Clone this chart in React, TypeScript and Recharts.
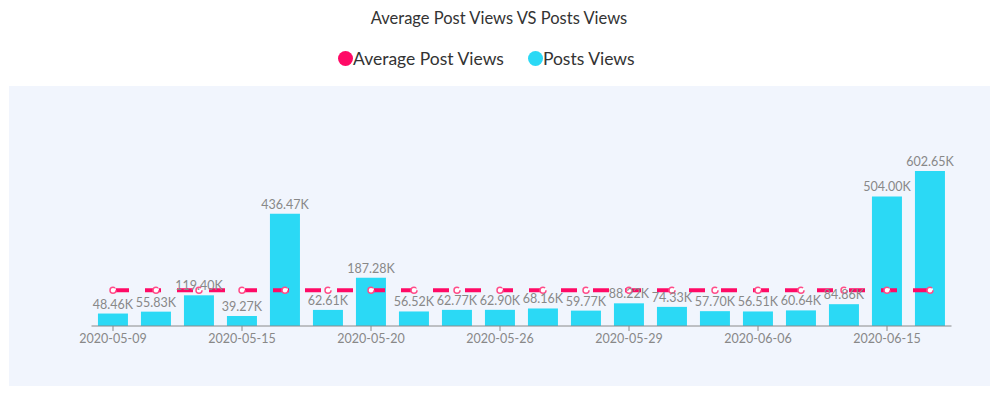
import React from "react";
import {
  ComposedChart,
  Bar,
  Line,
  XAxis,
  YAxis,
  LabelList,
} from "recharts";

const dates = [
  "2020-05-09", "2020-05-10", "2020-05-12", "2020-05-15", "2020-05-16",
  "2020-05-18", "2020-05-20", "2020-05-22", "2020-05-24", "2020-05-26",
  "2020-05-27", "2020-05-28", "2020-05-29", "2020-06-01", "2020-06-03",
  "2020-06-06", "2020-06-08", "2020-06-10", "2020-06-15", "2020-06-17",
];

// thousands
const postViews = [
  48.46, 55.83, 119.4, 39.27, 436.47, 62.61, 187.28, 56.52, 62.77, 62.9,
  68.16, 59.77, 88.22, 74.33, 57.7, 56.51, 60.64, 84.86, 504.0, 602.65,
];

const avgViews = [
  139.42, 139.42, 139.42, 139.42, 139.42, 139.42, 139.42, 139.42, 139.42, 139.42,
  139.42, 139.42, 139.42, 139.42, 139.42, 139.42, 139.42, 139.42, 139.42, 139.42,
];

const PINK = "#ff0a66";
const CYAN = "#2bd9f5";
const FONT = "Lato, sans-serif";

const data = dates.map((d, i) => ({ date: d, views: postViews[i], avg: avgViews[i] }));

function LegendItem({ color, label, gap }: { color: string; label: string; gap: number }) {
  return (
    <span style={{ display: "inline-flex", alignItems: "center", marginRight: gap }}>
      <span
        style={{
          width: 15,
          height: 15,
          borderRadius: "50%",
          background: color,
          display: "inline-block",
        }}
      />
      <span>{label}</span>
    </span>
  );
}

export default function App() {
  return (
    <div style={{ position: "relative", width: 998, height: 395, margin: -8, fontFamily: FONT, background: "#fff" }}>
      <div style={{ position: "absolute", top: 8, left: 0, width: 998, textAlign: "center", fontSize: 16.5, color: "#333" }}>
        Average Post Views VS Posts Views
      </div>
      <div style={{ position: "absolute", top: 48, left: 338, whiteSpace: "nowrap", fontSize: 17.5, color: "#333" }}>
        <LegendItem color={PINK} label="Average Post Views" gap={24} />
        <LegendItem color={CYAN} label="Posts Views" gap={0} />
      </div>
      <div style={{ position: "absolute", left: 9, top: 86, width: 982, height: 300, background: "#f1f5fd" }} />
      <div style={{ position: "absolute", left: 0, top: 0 }}>
        <ComposedChart
          width={998}
          height={395}
          data={data}
          margin={{ top: 146, right: 46.5, left: 91.5, bottom: 39 }}
          barCategoryGap="15%"
        >
          <XAxis
            dataKey="date"
            interval={2}
            height={30}
            tickSize={5}
            tickMargin={3}
            stroke="#8a8a8a"
            tick={{ fill: "#888", fontSize: 12.5, fontFamily: FONT }}
          />
          <YAxis hide domain={[0, 700]} />
          <Bar dataKey="views" fill={CYAN} isAnimationActive={false}>
            <LabelList
              dataKey="views"
              position="top"
              formatter={(v: number) => v.toFixed(2) + "K"}
              style={{ fill: "#888", fontSize: 12.5, fontFamily: FONT }}
            />
          </Bar>
          <Line
            dataKey="avg"
            stroke={PINK}
            strokeWidth={4}
            strokeDasharray="16 16"
            dot={{ r: 3, fill: "#fff", stroke: "#ff4d8a", strokeWidth: 1.5 }}
            isAnimationActive={false}
          />
        </ComposedChart>
      </div>
    </div>
  );
}
